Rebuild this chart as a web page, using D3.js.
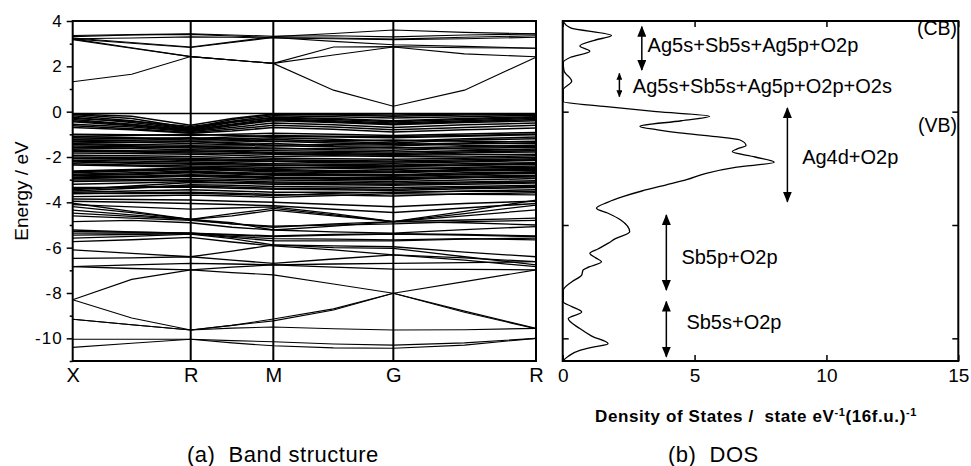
<!DOCTYPE html>
<html>
<head>
<meta charset="utf-8">
<script src="https://cdn.jsdelivr.net/npm/d3@7"></script>
<style>
  body { margin: 0; background: #fff; }
  text { font-family: "Liberation Sans", Arial, sans-serif; white-space: pre; }
</style>
</head>
<body>
<div id="chart"></div>
<script>
// ---- k-path (band structure) ----
const kGrid = [0, 0.5, 1, 1.35, 1.7, 2.21, 2.717, 3.32, 3.926];
const kLabels = ["X", "R", "M", "G", "R"];
const kLabelPos = [0, 1, 1.7, 2.717, 3.926];

// conduction bands, energy (eV) on kGrid
const conductionBands = [
  [1.32, 1.65, 2.43, 2.28, 2.13, 0.95, 0.24, 0.95, 2.40],
  [3.21, 2.82, 2.43, 2.28, 2.13, 2.50, 2.85, 2.55, 2.42],
  [3.18, 2.80, 2.43, 2.28, 2.13, 2.85, 2.87, 2.82, 2.80],
  [3.21, 3.02, 2.83, 3.05, 3.27, 3.10, 2.95, 2.88, 2.80],
  [3.25, 3.05, 2.85, 3.08, 3.31, 3.45, 3.60, 3.50, 3.43],
  [3.31, 3.38, 3.41, 3.34, 3.27, 3.25, 3.20, 3.28, 3.35],
  [3.36, 3.40, 3.43, 3.38, 3.33, 3.35, 3.30, 3.38, 3.43],
  [3.22, 3.25, 3.30, 3.28, 3.25, 3.22, 3.18, 3.22, 3.28]
];

// valence bands (0 to -4.4 eV)
const valenceBands = [
  [-0.08, -0.08, -0.08, -0.08, -0.08, -0.08, -0.08, -0.08, -0.08],
  [-0.10, -0.20, -0.60, -0.30, -0.10, -0.12, -0.15, -0.10, -0.10],
  [-0.12, -0.30, -0.72, -0.35, -0.12, -0.15, -0.20, -0.15, -0.12],
  [-0.18, -0.40, -0.75, -0.42, -0.18, -0.22, -0.28, -0.22, -0.16],
  [-0.25, -0.48, -0.78, -0.48, -0.25, -0.30, -0.40, -0.30, -0.22],
  [-0.30, -0.42, -0.65, -0.45, -0.28, -0.35, -0.45, -0.35, -0.26],
  [-0.35, -0.55, -0.82, -0.55, -0.32, -0.40, -0.50, -0.40, -0.30],
  [-0.40, -0.58, -0.80, -0.58, -0.36, -0.44, -0.54, -0.44, -0.35],
  [-0.45, -0.62, -0.85, -0.62, -0.40, -0.48, -0.58, -0.48, -0.40],
  [-0.55, -0.68, -0.88, -0.70, -0.50, -0.58, -0.70, -0.58, -0.50],
  [-0.62, -0.75, -0.92, -0.78, -0.60, -0.68, -0.80, -0.70, -0.60],
  [-0.70, -0.80, -0.95, -0.85, -0.70, -0.78, -0.90, -0.80, -0.72],
  [-1.00, -1.02, -1.05, -1.00, -0.95, -1.00, -1.05, -0.98, -0.92],
  [-1.08, -1.05, -1.00, -1.05, -1.10, -1.12, -1.15, -1.08, -1.02],
  [-1.10, -1.15, -1.18, -1.12, -1.05, -1.08, -1.10, -1.05, -0.98],
  [-1.15, -1.20, -1.25, -1.20, -1.15, -1.22, -1.30, -1.20, -1.12],
  [-1.22, -1.20, -1.15, -1.22, -1.30, -1.28, -1.25, -1.30, -1.35],
  [-1.25, -1.28, -1.30, -1.28, -1.22, -1.32, -1.38, -1.25, -1.20],
  [-1.30, -1.35, -1.40, -1.35, -1.30, -1.38, -1.45, -1.38, -1.30],
  [-1.38, -1.35, -1.32, -1.40, -1.48, -1.45, -1.40, -1.48, -1.55],
  [-1.42, -1.45, -1.48, -1.45, -1.40, -1.50, -1.52, -1.42, -1.40],
  [-1.45, -1.50, -1.55, -1.52, -1.50, -1.55, -1.60, -1.55, -1.48],
  [-1.52, -1.55, -1.60, -1.62, -1.65, -1.62, -1.58, -1.65, -1.70],
  [-1.58, -1.60, -1.55, -1.58, -1.60, -1.68, -1.70, -1.60, -1.58],
  [-1.60, -1.62, -1.68, -1.70, -1.72, -1.75, -1.78, -1.72, -1.65],
  [-1.68, -1.72, -1.78, -1.75, -1.80, -1.85, -1.90, -1.82, -1.78],
  [-1.72, -1.75, -1.72, -1.78, -1.85, -1.80, -1.85, -1.78, -1.72],
  [-1.75, -1.78, -1.82, -1.85, -1.88, -1.90, -1.92, -1.90, -1.88],
  [-1.82, -1.85, -1.88, -1.92, -1.98, -1.95, -1.98, -2.00, -1.95],
  [-1.92, -1.95, -1.98, -2.02, -2.05, -2.08, -2.10, -2.05, -2.02],
  [-2.00, -2.02, -2.05, -2.10, -2.12, -2.15, -2.18, -2.12, -2.08],
  [-2.05, -2.08, -2.10, -2.15, -2.18, -2.20, -2.22, -2.18, -2.12],
  [-2.08, -2.10, -2.15, -2.18, -2.20, -2.25, -2.28, -2.22, -2.15],
  [-2.15, -2.18, -2.22, -2.25, -2.30, -2.32, -2.35, -2.30, -2.25],
  [-2.18, -2.25, -2.28, -2.30, -2.35, -2.38, -2.40, -2.35, -2.28],
  [-2.22, -2.28, -2.32, -2.35, -2.38, -2.40, -2.42, -2.38, -2.32],
  [-2.30, -2.35, -2.40, -2.42, -2.45, -2.50, -2.55, -2.45, -2.40],
  [-2.35, -2.40, -2.45, -2.48, -2.50, -2.45, -2.48, -2.50, -2.45],
  [-2.62, -2.55, -2.48, -2.52, -2.55, -2.60, -2.62, -2.55, -2.50],
  [-2.65, -2.58, -2.52, -2.56, -2.60, -2.64, -2.66, -2.58, -2.54],
  [-2.70, -2.62, -2.55, -2.60, -2.65, -2.68, -2.70, -2.62, -2.58],
  [-2.76, -2.70, -2.62, -2.68, -2.72, -2.75, -2.78, -2.70, -2.65],
  [-2.80, -2.75, -2.66, -2.72, -2.78, -2.78, -2.80, -2.75, -2.68],
  [-2.82, -2.78, -2.70, -2.75, -2.80, -2.82, -2.85, -2.78, -2.72],
  [-2.88, -2.85, -2.78, -2.82, -2.88, -2.90, -2.92, -2.85, -2.80],
  [-2.92, -2.88, -2.82, -2.86, -2.92, -2.95, -2.96, -2.90, -2.84],
  [-2.95, -2.92, -2.85, -2.90, -2.95, -2.98, -3.00, -2.92, -2.88],
  [-3.02, -3.00, -2.95, -2.98, -3.02, -3.05, -3.08, -3.02, -2.95],
  [-3.08, -3.05, -3.02, -3.05, -3.10, -3.12, -3.15, -3.10, -3.05],
  [-3.20, -3.15, -3.08, -3.12, -3.15, -3.18, -3.20, -3.15, -3.10],
  [-3.45, -3.28, -3.12, -3.15, -3.20, -3.22, -3.25, -3.20, -3.15],
  [-3.50, -3.38, -3.22, -3.25, -3.30, -3.32, -3.35, -3.30, -3.25],
  [-3.35, -3.35, -3.32, -3.38, -3.42, -3.45, -3.48, -3.40, -3.35],
  [-3.40, -3.32, -3.28, -3.32, -3.38, -3.40, -3.42, -3.35, -3.30],
  [-3.55, -3.50, -3.45, -3.50, -3.55, -3.55, -3.58, -3.50, -3.45],
  [-3.62, -3.58, -3.55, -3.60, -3.65, -3.68, -3.72, -3.62, -3.58],
  [-3.85, -3.88, -3.90, -3.95, -4.00, -4.10, -4.20, -4.05, -3.95],
  [-3.95, -4.00, -4.05, -4.10, -4.15, -4.30, -4.45, -4.25, -4.05]
];

// middle bands (-3.6 to -7 eV)
const middleBands = [
  [-3.60, -3.62, -3.60, -3.65, -3.70, -3.60, -3.55, -3.52, -3.52],
  [-3.75, -3.72, -3.68, -3.72, -3.78, -3.70, -3.62, -3.65, -3.67],
  [-4.04, -4.40, -4.75, -4.50, -4.27, -4.55, -4.85, -4.40, -3.90],
  [-4.10, -4.20, -4.30, -4.25, -4.20, -4.50, -4.85, -4.60, -4.33],
  [-4.19, -4.45, -4.75, -4.60, -4.34, -4.60, -4.85, -4.50, -4.12],
  [-4.34, -4.55, -4.75, -4.90, -5.22, -5.05, -4.85, -4.78, -4.70],
  [-4.48, -4.62, -4.75, -4.95, -5.10, -4.95, -4.85, -4.90, -5.00],
  [-4.60, -4.70, -4.80, -4.95, -5.05, -5.00, -4.95, -4.85, -4.80],
  [-4.85, -4.80, -4.90, -5.10, -5.22, -5.30, -5.36, -5.20, -5.07],
  [-5.22, -5.30, -5.36, -5.45, -5.51, -5.45, -5.40, -5.45, -5.51],
  [-5.28, -5.32, -5.36, -5.42, -5.48, -5.42, -5.38, -5.42, -5.48],
  [-5.36, -5.36, -5.36, -5.50, -5.60, -5.62, -5.66, -5.60, -5.66],
  [-5.45, -5.42, -5.38, -5.55, -5.70, -5.70, -5.70, -5.62, -5.58],
  [-5.58, -5.50, -5.40, -5.60, -5.88, -5.92, -5.96, -6.20, -6.40],
  [-5.73, -5.65, -5.55, -5.75, -5.92, -6.10, -6.32, -6.45, -6.62],
  [-6.10, -6.25, -6.40, -6.15, -5.88, -6.00, -6.03, -6.40, -6.76],
  [-6.47, -6.45, -6.40, -6.55, -6.69, -6.50, -6.32, -6.55, -6.84],
  [-6.84, -6.76, -6.69, -6.72, -6.76, -6.72, -6.69, -6.66, -6.62],
  [-6.84, -6.92, -6.98, -6.86, -6.76, -6.86, -6.95, -6.96, -6.98]
];

// lower bands (-7 to -10.5 eV)
const lowerBands = [
  [-8.30, -7.40, -6.98, -7.10, -7.20, -7.60, -8.01, -7.50, -6.98],
  [-8.30, -9.10, -9.63, -9.43, -9.23, -8.75, -8.01, -8.80, -9.56],
  [-9.16, -9.40, -9.63, -9.43, -9.15, -8.70, -8.01, -8.85, -9.58],
  [-9.16, -9.40, -9.63, -9.55, -9.50, -9.58, -9.63, -9.62, -9.56],
  [-10.04, -10.04, -10.04, -10.10, -10.15, -10.25, -10.30, -10.20, -10.00],
  [-10.40, -10.22, -10.04, -10.20, -10.33, -10.42, -10.44, -10.30, -10.00]
];

// ---- DOS curve ----
const dosEnergy = [4.0, 3.7, 3.36, 3.15, 2.9, 2.67, 2.4, 2.17, 1.8, 1.34, 0.97, 0.45, 0.22, 0.0, -0.2,
  -0.4, -0.65, -0.8, -0.94, -1.1, -1.24, -1.49, -1.65, -1.76, -2.0, -2.23, -2.45, -2.72, -3.0, -3.23,
  -3.5, -3.75, -4.0, -4.26, -4.47, -4.78, -5.3, -5.6, -5.8, -6.05, -6.25, -6.45, -6.62, -6.85, -6.99,
  -7.21, -7.5, -7.88, -8.39, -8.6, -8.84, -9.13, -9.57, -9.9, -10.24, -10.4, -10.53, -10.8, -11.0];
const dosValue = [0.0, 0.3, 1.85, 1.2, 0.65, 1.03, 0.3, 0.02, 0.05, 0.34, 0.02, 0.02, 1.66, 3.55, 5.57,
  4.5, 2.93, 3.6, 4.43, 5.8, 6.7, 6.95, 6.6, 6.43, 7.3, 8.02, 6.6, 5.44, 4.7, 3.93,
  3.0, 2.28, 1.7, 1.28, 1.7, 2.2, 2.54, 2.0, 1.73, 1.35, 1.03, 1.25, 1.47, 1.0, 0.77,
  0.72, 0.35, 0.02, 0.02, 0.35, 0.72, 0.21, 0.65, 1.1, 1.72, 1.1, 0.65, 0.2, 0.0];

// ---- DOS annotations ----
const arrowDos = [3.0, 2.15, 8.52, 3.93, 3.93];
const arrowTop = [3.75, 1.69, 0.16, -4.56, -8.38];
const arrowBottom = [1.84, 0.66, -3.97, -7.87, -10.81];
const labelTexts = ["Ag5s+Sb5s+Ag5p+O2p", "Ag5s+Sb5s+Ag5p+O2p+O2s", "Ag4d+O2p", "Sb5p+O2p", "Sb5s+O2p"];
const labelDos = [3.22, 2.66, 9.08, 4.5, 4.69];
const labelEnergy = [2.94, 1.13, -1.98, -6.4, -9.26];
const bandLabels = ["(CB)", "(VB)"];
const bandLabelEnergy = [3.69, -0.59];

const energyTicks = [-10, -8, -6, -4, -2, 0, 2, 4];
const energyMinor = [-11, -9, -7, -5, -3, -1, 1, 3];
const dosTicks = [0, 5, 10, 15];

// ---- drawing ----
const svg = d3.select("#chart").append("svg")
  .attr("width", 971)
  .attr("height", 466);

const kx = d3.scaleLinear().domain([0, 3.926]).range([72.7, 536]);
const ey = d3.scaleLinear().domain([-11, 4]).range([361, 21]);
const dx = d3.scaleLinear().domain([0, 15]).range([562.7, 958.3]);

// band lines
const bandLine = d3.line()
  .x((d, i) => kx(kGrid[i]))
  .y(d => ey(d));

function drawBands(bands, width) {
  svg.append("g")
    .selectAll("path")
    .data(bands)
    .enter()
    .append("path")
    .attr("d", bandLine)
    .attr("fill", "none")
    .attr("stroke", "#000")
    .attr("stroke-width", width);
}
drawBands(conductionBands, 1.1);
drawBands(valenceBands, 1.5);
drawBands(middleBands, 1.3);
drawBands(lowerBands, 1.1);

// high-symmetry vertical lines
svg.append("g")
  .selectAll("line")
  .data(kLabelPos.slice(1, 4))
  .enter()
  .append("line")
  .attr("x1", d => kx(d)).attr("x2", d => kx(d))
  .attr("y1", ey(4)).attr("y2", ey(-11))
  .attr("stroke", "#000")
  .attr("stroke-width", 2);

// frame of band panel
svg.append("rect")
  .attr("x", kx(0)).attr("y", ey(4))
  .attr("width", kx(3.926) - kx(0))
  .attr("height", ey(-11) - ey(4))
  .attr("fill", "none")
  .attr("stroke", "#000")
  .attr("stroke-width", 2);

// y axis (energy)
const leftAxis = d3.axisLeft(ey).tickValues(energyTicks).tickSize(6).tickSizeOuter(0)
  .tickPadding(4).tickFormat(d => String(d));
const yAx = svg.append("g").attr("transform", `translate(${kx(0)},0)`).call(leftAxis);
yAx.select(".domain").remove();
yAx.selectAll("line").attr("stroke-width", 1.5);
yAx.selectAll("text").attr("font-size", 17).attr("fill", "#000")
  .attr("letter-spacing", 1)
  .attr("font-family", "Liberation Sans, Arial, sans-serif");

const minorAxis = d3.axisLeft(ey).tickValues(energyMinor).tickSize(3).tickFormat("");
const yMin = svg.append("g").attr("transform", `translate(${kx(0)},0)`).call(minorAxis);
yMin.select(".domain").remove();
yMin.selectAll("line").attr("stroke-width", 1.5);

// k labels
const kAxis = d3.axisBottom(kx).tickValues(kLabelPos).tickSize(0).tickPadding(7)
  .tickFormat((d, i) => kLabels[i]);
const kAx = svg.append("g").attr("transform", `translate(0,${ey(-11)})`).call(kAxis);
kAx.select(".domain").remove();
kAx.selectAll("text").attr("font-size", 20).attr("fill", "#000")
  .attr("font-family", "Liberation Sans, Arial, sans-serif");

svg.append("text")
  .attr("transform", `translate(21,${(ey(4) + ey(-11)) / 2}) rotate(-90)`)
  .attr("text-anchor", "middle")
  .attr("dominant-baseline", "central")
  .attr("font-size", 19)
  .text("Energy / eV");

// ---- DOS panel ----
const dosLine = d3.line()
  .x(d => dx(d[1]))
  .y(d => ey(d[0]))
  .curve(d3.curveMonotoneY);

svg.append("path")
  .datum(dosEnergy.map((e, i) => [e, dosValue[i]]))
  .attr("d", dosLine)
  .attr("fill", "none")
  .attr("stroke", "#000")
  .attr("stroke-width", 1.3);

svg.append("rect")
  .attr("x", dx(0)).attr("y", ey(4))
  .attr("width", dx(15) - dx(0))
  .attr("height", ey(-11) - ey(4))
  .attr("fill", "none")
  .attr("stroke", "#000")
  .attr("stroke-width", 2);

const dosBottom = d3.axisBottom(dx).tickValues(dosTicks).tickSizeInner(-6).tickSizeOuter(0).tickPadding(8);
const dB = svg.append("g").attr("transform", `translate(0,${ey(-11)})`).call(dosBottom);
dB.select(".domain").remove();
dB.selectAll("line").attr("stroke-width", 1.5);
dB.selectAll("text").attr("font-size", 19).attr("fill", "#000")
  .attr("font-family", "Liberation Sans, Arial, sans-serif");

const dosTop = d3.axisTop(dx).tickValues(dosTicks).tickSizeInner(-6).tickSizeOuter(0).tickFormat("");
const dT = svg.append("g").attr("transform", `translate(0,${ey(4)})`).call(dosTop);
dT.select(".domain").remove();
dT.selectAll("line").attr("stroke-width", 1.5);

const dosLeft = d3.axisLeft(ey).tickValues([0, -5, -10]).tickSizeInner(-6).tickSizeOuter(0).tickFormat("");
const dL = svg.append("g").attr("transform", `translate(${dx(0)},0)`).call(dosLeft);
dL.select(".domain").remove();
dL.selectAll("line").attr("stroke-width", 1.5);

const dosRight = d3.axisRight(ey).tickValues([0, -5, -10]).tickSizeInner(-6).tickSizeOuter(0).tickFormat("");
const dR = svg.append("g").attr("transform", `translate(${dx(15)},0)`).call(dosRight);
dR.select(".domain").remove();
dR.selectAll("line").attr("stroke-width", 1.5);

// arrow heads
const defs = svg.append("defs");
defs.append("marker")
  .attr("id", "head")
  .attr("viewBox", "0 0 11 9")
  .attr("refX", 10).attr("refY", 4.5)
  .attr("markerWidth", 11).attr("markerHeight", 9)
  .attr("markerUnits", "userSpaceOnUse")
  .attr("orient", "auto-start-reverse")
  .append("path").attr("d", "M0,0 L11,4.5 L0,9 Z").attr("fill", "#000");
defs.append("marker")
  .attr("id", "headSmall")
  .attr("viewBox", "0 0 7 6")
  .attr("refX", 6.5).attr("refY", 3)
  .attr("markerWidth", 7).attr("markerHeight", 6)
  .attr("markerUnits", "userSpaceOnUse")
  .attr("orient", "auto-start-reverse")
  .append("path").attr("d", "M0,0 L7,3 L0,6 Z").attr("fill", "#000");

svg.append("g")
  .selectAll("line")
  .data(arrowDos)
  .enter()
  .append("line")
  .attr("x1", d => dx(d)).attr("x2", d => dx(d))
  .attr("y1", (d, i) => ey(arrowTop[i]))
  .attr("y2", (d, i) => ey(arrowBottom[i]))
  .attr("stroke", "#000")
  .attr("stroke-width", 1.5)
  .attr("marker-start", (d, i) => i === 1 ? "url(#headSmall)" : "url(#head)")
  .attr("marker-end", (d, i) => i === 1 ? "url(#headSmall)" : "url(#head)");

svg.append("g")
  .selectAll("text")
  .data(labelTexts)
  .enter()
  .append("text")
  .attr("x", (d, i) => dx(labelDos[i]))
  .attr("y", (d, i) => ey(labelEnergy[i]))
  .attr("dominant-baseline", "central")
  .attr("font-size", 20)
  .text(d => d);

svg.append("g")
  .selectAll("text")
  .data(bandLabels)
  .enter()
  .append("text")
  .attr("x", dx(14.95))
  .attr("y", (d, i) => ey(bandLabelEnergy[i]))
  .attr("text-anchor", "end")
  .attr("dominant-baseline", "central")
  .attr("font-size", 19.5)
  .text(d => d);

// DOS axis title
const title = svg.append("text")
  .attr("x", 595).attr("y", 422)
  .attr("font-size", 17)
  .attr("letter-spacing", 0.6)
  .attr("font-weight", "bold");
title.append("tspan").text("Density of States /  state eV");
title.append("tspan").attr("dy", -6).attr("font-size", 11).text("-1");
title.append("tspan").attr("dy", 6).text("(16f.u.)");
title.append("tspan").attr("dy", -6).attr("font-size", 11).text("-1");

// panel captions
svg.append("text")
  .attr("x", 187).attr("y", 462)
  .attr("font-size", 22)
  .attr("letter-spacing", 0.5)
  .text("(a)  Band structure");
svg.append("text")
  .attr("x", 668).attr("y", 462)
  .attr("font-size", 22)
  .attr("letter-spacing", 0.5)
  .text("(b)  DOS");
</script>
</body>
</html>
